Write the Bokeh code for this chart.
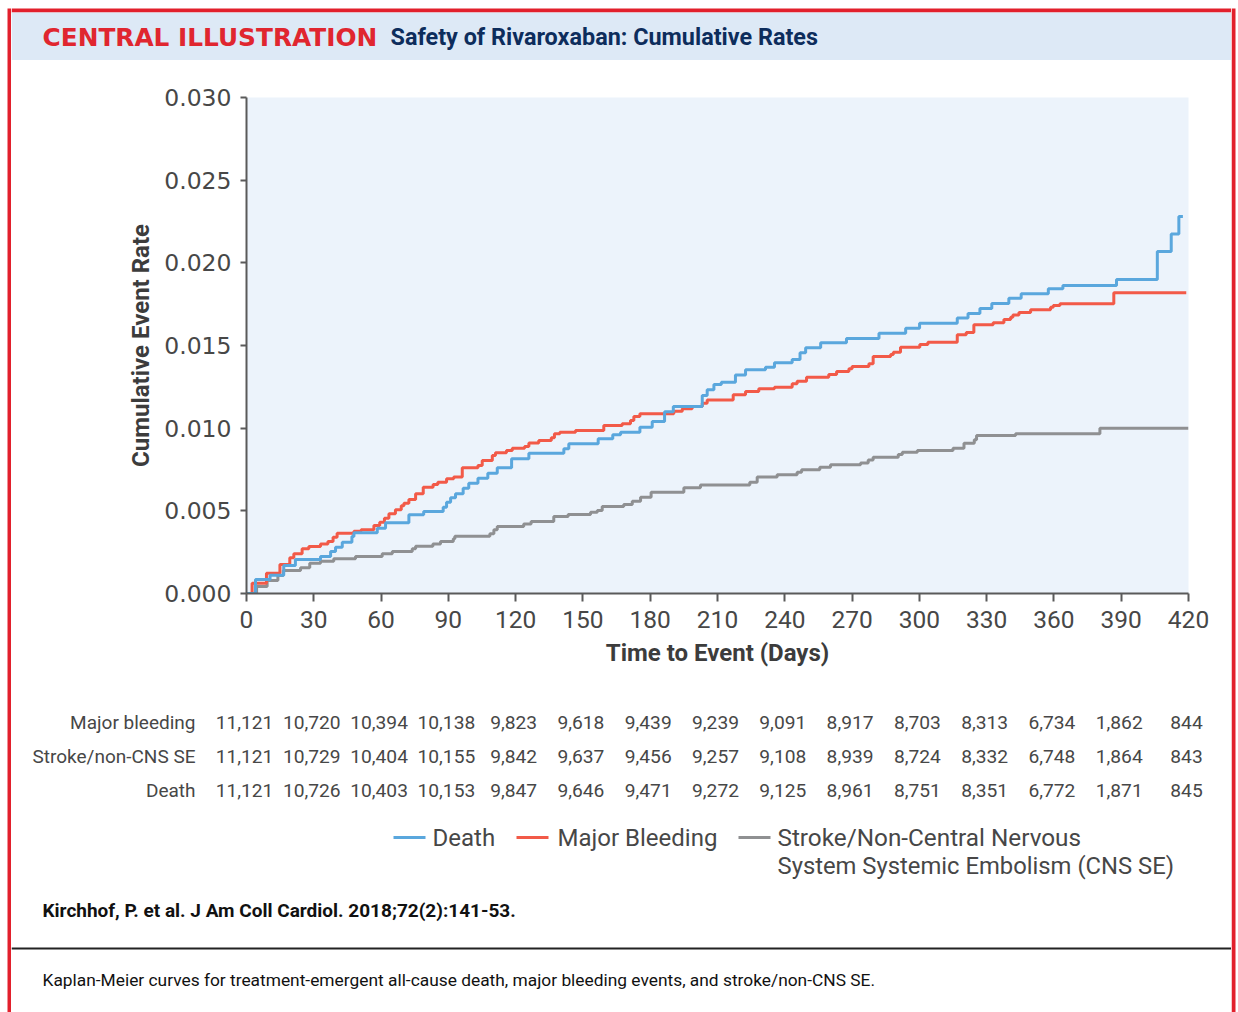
from bokeh.plotting import figure
from bokeh.layouts import row, column
from bokeh.models import Range1d, FixedTicker, PrintfTickFormatter
from bokeh.core.properties import value
from bokeh.embed import file_html
from bokeh.resources import INLINE

# ---------------- data ----------------
death_days = [0, 4.0, 10.5, 16.6, 21.8, 33.0, 37.5, 39.7, 42.7, 47.0, 47.9, 58.3, 62.0,
              72.4, 79.0, 87.7, 89.2, 91.0, 93.2, 96.6, 99.1, 103.2, 107.6, 111.8, 118.2,
              125.9, 141.5, 143.7, 156.8, 163.3, 166.8, 175.4, 180.9, 186.4, 190.3, 203.2,
              205.4, 208.4, 211.7, 218.0, 222.5, 231.4, 235.4, 243.3, 246.8, 249.3, 256.0,
              267.5, 282.0, 293.9, 300.1, 316.9, 321.7, 327.0, 332.3, 339.9, 345.4, 357.5,
              364.0, 387.9, 406.1, 412.3, 415.7, 417.5]
death_rate = [0, 0.00085, 0.00110, 0.00169, 0.00206, 0.00224, 0.00254, 0.00280, 0.00310,
              0.00345, 0.00367, 0.00395, 0.00428, 0.00476, 0.00496, 0.00522, 0.00552,
              0.00579, 0.00603, 0.00637, 0.00667, 0.00697, 0.00728, 0.00760, 0.00815,
              0.00849, 0.00875, 0.00905, 0.00936, 0.00960, 0.00976, 0.01006, 0.01040,
              0.01100, 0.01131, 0.01197, 0.01232, 0.01264, 0.01278, 0.01322, 0.01353,
              0.01369, 0.01395, 0.01415, 0.01456, 0.01486, 0.01516, 0.01542, 0.01574,
              0.01605, 0.01635, 0.01666, 0.01694, 0.01724, 0.01754, 0.01786, 0.01813,
              0.01843, 0.01863, 0.01899, 0.02068, 0.02175, 0.02280, 0.02280]

bleed_days = [0, 2.5, 8.9, 14.9, 19.3, 21.1, 24.8, 27.8, 33.0, 36.3, 38.6, 40.4, 47.9, 51.1,
              56.8, 59.4, 61.5, 63.5, 66.4, 69.0, 70.2, 72.4, 75.4, 78.8, 83.2, 85.3, 89.2,
              92.4, 96.2, 103.2, 105.1, 109.6, 111.0, 115.9, 118.5, 124.0, 125.9, 130.3,
              135.9, 137.3, 139.7, 146.7, 159.3, 167.5, 171.2, 172.7, 175.4, 190.5, 194.3,
              198.7, 203.2, 205.4, 217.0, 222.5, 228.4, 235.4, 243.3, 245.5, 249.7, 259.6,
              263.1, 268.6, 270.0, 277.5, 279.4, 287.2, 288.4, 291.6, 300.2, 303.8, 316.9,
              320.9, 324.3, 332.9, 337.7, 340.7, 341.7, 344.4, 349.6, 358.5, 359.7, 362.7,
              386.7, 419.0]
bleed_rate = [0, 0.00062, 0.00123, 0.00175, 0.00216, 0.00240, 0.00270, 0.00284, 0.00300,
              0.00314, 0.00340, 0.00365, 0.00377, 0.00385, 0.00411, 0.00431, 0.00455,
              0.00482, 0.00506, 0.00530, 0.00546, 0.00568, 0.00603, 0.00643, 0.00659,
              0.00673, 0.00694, 0.00704, 0.00760, 0.00774, 0.00804, 0.00835, 0.00851,
              0.00865, 0.00879, 0.00889, 0.00911, 0.00925, 0.00942, 0.00966, 0.00976,
              0.00986, 0.01016, 0.01026, 0.01046, 0.01070, 0.01087, 0.01103, 0.01117,
              0.01131, 0.01150, 0.01171, 0.01202, 0.01222, 0.01238, 0.01248, 0.01268,
              0.01284, 0.01308, 0.01324, 0.01343, 0.01359, 0.01373, 0.01389, 0.01433,
              0.01445, 0.01459, 0.01490, 0.01506, 0.01520, 0.01565, 0.01578, 0.01625,
              0.01637, 0.01657, 0.01671, 0.01685, 0.01699, 0.01716, 0.01732, 0.01742,
              0.01752, 0.01819, 0.01819]

stroke_days = [0, 4.5, 9.2, 14.0, 16.4, 24.1, 28.2, 33.0, 38.9, 48.6, 60.5, 65.0, 73.9, 75.4,
               83.1, 86.5, 92.2, 92.9, 108.5, 110.3, 111.8, 123.6, 126.9, 137.0, 143.4,
               153.4, 156.4, 158.6, 168.2, 172.0, 175.7, 180.4, 195.0, 202.4, 224.4, 227.7,
               236.6, 245.5, 247.5, 255.6, 260.4, 273.8, 277.2, 279.4, 290.6, 292.4, 299.1,
               315.0, 319.9, 324.5, 325.5, 342.9, 380.5, 420.0]
stroke_rate = [0, 0.00042, 0.00079, 0.00109, 0.00139, 0.00155, 0.00183, 0.00195, 0.00210,
               0.00224, 0.00240, 0.00254, 0.00270, 0.00286, 0.00300, 0.00314, 0.00331,
               0.00347, 0.00361, 0.00385, 0.00405, 0.00421, 0.00435, 0.00466, 0.00478,
               0.00492, 0.00502, 0.00526, 0.00538, 0.00558, 0.00582, 0.00613, 0.00639,
               0.00657, 0.00673, 0.00704, 0.00718, 0.00734, 0.00748, 0.00764, 0.00778,
               0.00790, 0.00808, 0.00824, 0.00841, 0.00855, 0.00865, 0.00879, 0.00909,
               0.00930, 0.00955, 0.00966, 0.01000, 0.01000]

x_ticks = [0, 30, 60, 90, 120, 150, 180, 210, 240, 270, 300, 330, 360, 390, 420]
y_ticks = [0.0, 0.005, 0.010, 0.015, 0.020, 0.025, 0.030]

risk_labels = ["Major bleeding", "Stroke/non-CNS SE", "Death"]
risk_major_bleeding = [11121, 10720, 10394, 10138, 9823, 9618, 9439, 9239, 9091, 8917,
                       8703, 8313, 6734, 1862, 844]
risk_stroke = [11121, 10729, 10404, 10155, 9842, 9637, 9456, 9257, 9108, 8939, 8724, 8332,
               6748, 1864, 843]
risk_death = [11121, 10726, 10403, 10153, 9847, 9646, 9471, 9272, 9125, 8961, 8751, 8351,
              6772, 1871, 845]

legend_labels = ["Death", "Major Bleeding",
                 "Stroke/Non-Central Nervous", "System Systemic Embolism (CNS SE)"]

# ---------------- styling / layout constants ----------------
TOTAL_W, TOTAL_H = 1238, 1012
LEFT_W, RIGHT_W = 11, 7
MID_W = TOTAL_W - LEFT_W - RIGHT_W          # 1220
HEAD_H, CHART_H = 60, 630
BOT_H = TOTAL_H - HEAD_H - CHART_H          # 322
F_LEFT, F_W, F_TOP, F_H = 235, 942, 37, 496  # chart frame inside the chart figure

RED_BORDER = "#e2202c"
HEADER_BG = "#dde9f6"
PLOT_BG = "#ecf3fb"
TITLE_RED = "#e0262f"
NAVY = "#0d2d5c"
BLUE = "#5aa7dd"
RED = "#f25a48"
GRAY = "#8f9092"
TXT = "#474747"
AX = "#5a5a5a"


def canvas_fig(w, h, **kw):
    f = figure(width=w, height=h, x_range=Range1d(0, w), y_range=Range1d(h, 0),
               output_backend="svg", toolbar_location=None, title=None,
               x_axis_location=None, y_axis_location=None, min_border=0, **kw)
    f.grid.visible = False
    f.outline_line_color = None
    f.background_fill_color = "white"
    f.border_fill_color = "white"
    return f


def txt(f, x, y, s, font="Roboto", size="19px", color=TXT, style="normal", align="left",
        **kw):
    f.text(x=[x], y=[y], text=[s], text_font=value(font), text_font_size=size,
           text_color=color, text_font_style=style, text_align=align,
           text_baseline="middle", **kw)


# ---- left / right red border strips ----
left = canvas_fig(LEFT_W, TOTAL_H)
left.quad(left=[7], right=[11], top=[8], bottom=[TOTAL_H], fill_color=RED_BORDER,
          line_color=None)
right = canvas_fig(RIGHT_W, TOTAL_H)
right.quad(left=[0], right=[4], top=[8], bottom=[TOTAL_H], fill_color=RED_BORDER,
           line_color=None)

# ---- header ----
head = canvas_fig(MID_W, HEAD_H)
head.quad(left=[0], right=[MID_W], top=[8], bottom=[12], fill_color=RED_BORDER,
          line_color=None)
head.quad(left=[0], right=[MID_W], top=[12], bottom=[HEAD_H], fill_color=HEADER_BG,
          line_color=None)
txt(head, 31, 36.5, "CENTRAL ILLUSTRATION", font="DejaVu Sans", size="24.8px",
    color=TITLE_RED, style="bold")
txt(head, 379, 36.5, "Safety of Rivaroxaban: Cumulative Rates", font="Roboto", size="23.4px",
    color=NAVY, style="bold")

# ---- chart ----
p = figure(width=MID_W, height=CHART_H, x_range=Range1d(0, 420), y_range=Range1d(0, 0.030),
           output_backend="svg", toolbar_location=None, title=None,
           min_border_left=F_LEFT, min_border_right=MID_W - F_LEFT - F_W,
           min_border_top=F_TOP, min_border_bottom=CHART_H - F_TOP - F_H)
p.background_fill_color = PLOT_BG
p.border_fill_color = "white"
p.outline_line_color = None
p.grid.visible = False
p.xaxis.ticker = FixedTicker(ticks=x_ticks)
p.yaxis.ticker = FixedTicker(ticks=y_ticks)
p.yaxis.formatter = PrintfTickFormatter(format="%.3f")
for ax in (p.xaxis, p.yaxis):
    ax.axis_line_color = AX
    ax.axis_line_width = 2
    ax.major_tick_line_color = AX
    ax.major_tick_line_width = 2
    ax.major_tick_in = 0
    ax.minor_tick_line_color = None
    ax.major_label_text_color = TXT
    ax.axis_label_text_color = "#3c3c3c"
    ax.axis_label_text_font = "Roboto"
    ax.axis_label_text_font_style = "bold"
    ax.axis_label_text_font_size = "24px"
p.yaxis.major_tick_out = 6
p.xaxis.major_tick_out = 8
p.yaxis.major_label_text_font = "DejaVu Sans"
p.yaxis.major_label_text_font_size = "23.5px"
p.yaxis.major_label_standoff = 9
p.xaxis.major_label_text_font = "Roboto"
p.xaxis.major_label_text_font_size = "24.5px"
p.xaxis.major_label_standoff = 9
p.xaxis.axis_label = "Time to Event (Days)"
p.yaxis.axis_label = "Cumulative Event Rate"
p.xaxis.axis_label_standoff = 8
p.yaxis.axis_label_standoff = 6

p.step(x=stroke_days, y=stroke_rate, mode="after", line_color=GRAY, line_width=3)
p.step(x=bleed_days, y=bleed_rate, mode="after", line_color=RED, line_width=3)
p.step(x=death_days, y=death_rate, mode="after", line_color=BLUE, line_width=3)

# ---- bottom: risk table, legend, citation, caption ----
bot = canvas_fig(MID_W, BOT_H)
# an x range in days aligned with the chart's x axis above
bot.extra_x_ranges = {"days": Range1d(start=-F_LEFT * 420 / F_W,
                                      end=(MID_W - F_LEFT) * 420 / F_W)}
row_y = [32, 66, 100]
for name, ry, vals in zip(risk_labels, row_y,
                          [risk_major_bleeding, risk_stroke, risk_death]):
    txt(bot, 184, ry, name, size="19px", align="right")
    bot.text(x=x_ticks, y=[ry] * len(x_ticks), text=[f"{v:,}" for v in vals],
             x_range_name="days", x_offset=-2, text_font=value("Roboto"),
             text_font_size="19.2px", text_color=TXT, text_align="center",
             text_baseline="middle")

leg_y1, leg_y2 = 147, 175
for (x0, x1), col in zip([(382, 414), (505, 537), (727, 759)], [BLUE, RED, GRAY]):
    bot.segment(x0=[x0], y0=[leg_y1], x1=[x1], y1=[leg_y1], line_color=col, line_width=3)
txt(bot, 421, leg_y1, legend_labels[0], size="24px")
txt(bot, 546, leg_y1, legend_labels[1], size="24px")
txt(bot, 766, leg_y1, legend_labels[2], size="24.3px")
txt(bot, 766, leg_y2, legend_labels[3], size="23.8px")

txt(bot, 31, 220, "Kirchhof, P. et al. J Am Coll Cardiol. 2018;72(2):141-53.", size="19px",
    color="#111111", style="bold")
bot.quad(left=[0], right=[MID_W], top=[257], bottom=[259], fill_color="#222222",
         line_color=None)
txt(bot, 31, 289, "Kaplan-Meier curves for treatment-emergent all-cause death, major "
    "bleeding events, and stroke/non-CNS SE.", size="17.35px", color="#111111")

# each piece in its own row so that the column does not align their frames
layout = row(left, column(row(head), row(p), row(bot)), right)
open("out.html", "w").write(file_html(layout, INLINE))
